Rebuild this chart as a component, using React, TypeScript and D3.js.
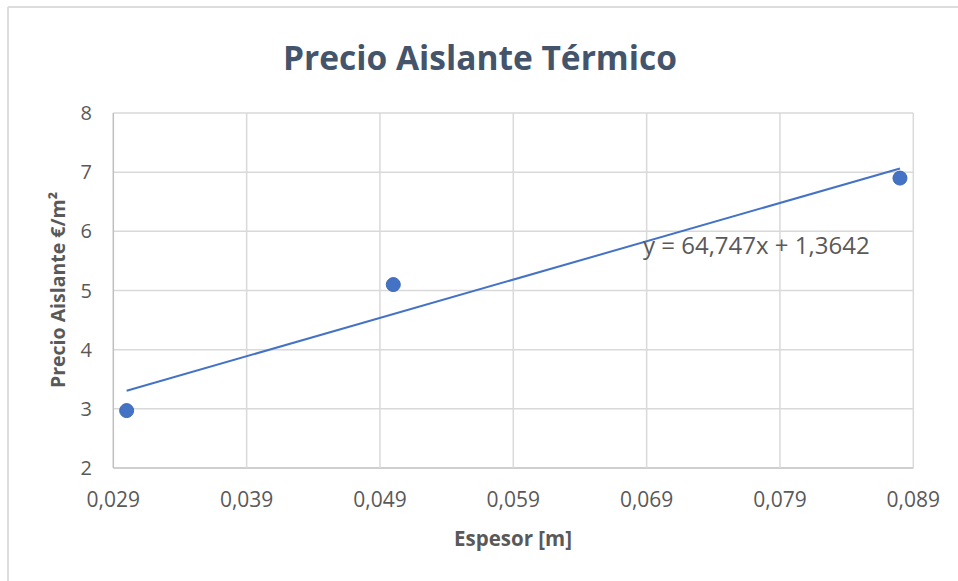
import React from "react";
import * as d3 from "d3";

const xValues = [0.03, 0.05, 0.088];
const yValues = [2.97, 5.1, 6.9];
const xTicks = [0.029, 0.039, 0.049, 0.059, 0.069, 0.079, 0.089];
const yTicks = [2, 3, 4, 5, 6, 7, 8];
const trendSlope = 64.747;
const trendIntercept = 1.3642;
const trendLabel = "y = 64,747x + 1,3642";
const title = "Precio Aislante Térmico";
const xTitle = "Espesor [m]";
const yTitle = "Precio Aislante €/m²";

const W = 958;
const H = 581;
const left = 113.3;
const right = 913.3;
const top = 113;
const bottom = 468;

export default function App() {
  const x = d3.scaleLinear().domain([0.029, 0.089]).range([left, right]);
  const y = d3.scaleLinear().domain([2, 8]).range([bottom, top]);
  const fmt = (v: number) => v.toFixed(3).replace(".", ",");
  const xMin = d3.min(xValues)!;
  const xMax = d3.max(xValues)!;
  const trend = d3
    .line<number>()
    .x((d) => x(d))
    .y((d) => y(trendSlope * d + trendIntercept))([xMin, xMax]);
  const font = "'Open Sans', 'Noto Sans', sans-serif";
  return (
    <svg
      width={W}
      height={H}
      style={{ position: "absolute", left: 0, top: 0, background: "#fff" }}
      fontFamily={font}
    >
      <rect x={0} y={0} width={W} height={H} fill="#fff" />
      <line x1={8} y1={7} x2={W} y2={7} stroke="#dcdcdc" strokeWidth={2} />
      <line x1={8} y1={7} x2={8} y2={H} stroke="#dcdcdc" strokeWidth={2} />
      <text
        x={480}
        y={70}
        textAnchor="middle"
        fontSize={33.5}
        fontWeight={700}
        fill="#44546a"
      >
        {title}
      </text>
      {yTicks.map((t) => (
        <line
          key={"gy" + t}
          x1={left}
          x2={right}
          y1={y(t)}
          y2={y(t)}
          stroke={t === 2 ? "#bfbfbf" : "#d9d9d9"}
          strokeWidth={1.5}
        />
      ))}
      {xTicks.map((t) => (
        <line
          key={"gx" + t}
          x1={x(t)}
          x2={x(t)}
          y1={top}
          y2={bottom}
          stroke={t === 0.029 ? "#bfbfbf" : "#d9d9d9"}
          strokeWidth={1.5}
        />
      ))}
      {yTicks.map((t) => (
        <text
          key={"ty" + t}
          x={92}
          y={y(t)}
          dy="0.35em"
          textAnchor="end"
          fontSize={20}
          fill="#595959"
        >
          {t}
        </text>
      ))}
      {xTicks.map((t) => (
        <text
          key={"tx" + t}
          x={x(t)}
          y={507}
          textAnchor="middle"
          fontSize={21}
          fill="#595959"
        >
          {fmt(t)}
        </text>
      ))}
      <path d={trend ?? ""} stroke="#4472c4" strokeWidth={2} fill="none" />
      {xValues.map((v, i) => (
        <circle key={"p" + i} cx={x(v)} cy={y(yValues[i])} r={7} fill="#4472c4" stroke="#3d68b5" strokeWidth={1} />
      ))}
      <text x={643} y={254} fontSize={24} fill="#595959">
        {trendLabel}
      </text>
      <text
        x={513}
        y={546}
        textAnchor="middle"
        fontSize={20.5}
        fontWeight={700}
        fill="#595959"
      >
        {xTitle}
      </text>
      <text
        transform={`translate(65, ${290}) rotate(-90)`}
        textAnchor="middle"
        fontSize={19.5}
        fontWeight={700}
        fill="#595959"
      >
        {yTitle}
      </text>
    </svg>
  );
}
